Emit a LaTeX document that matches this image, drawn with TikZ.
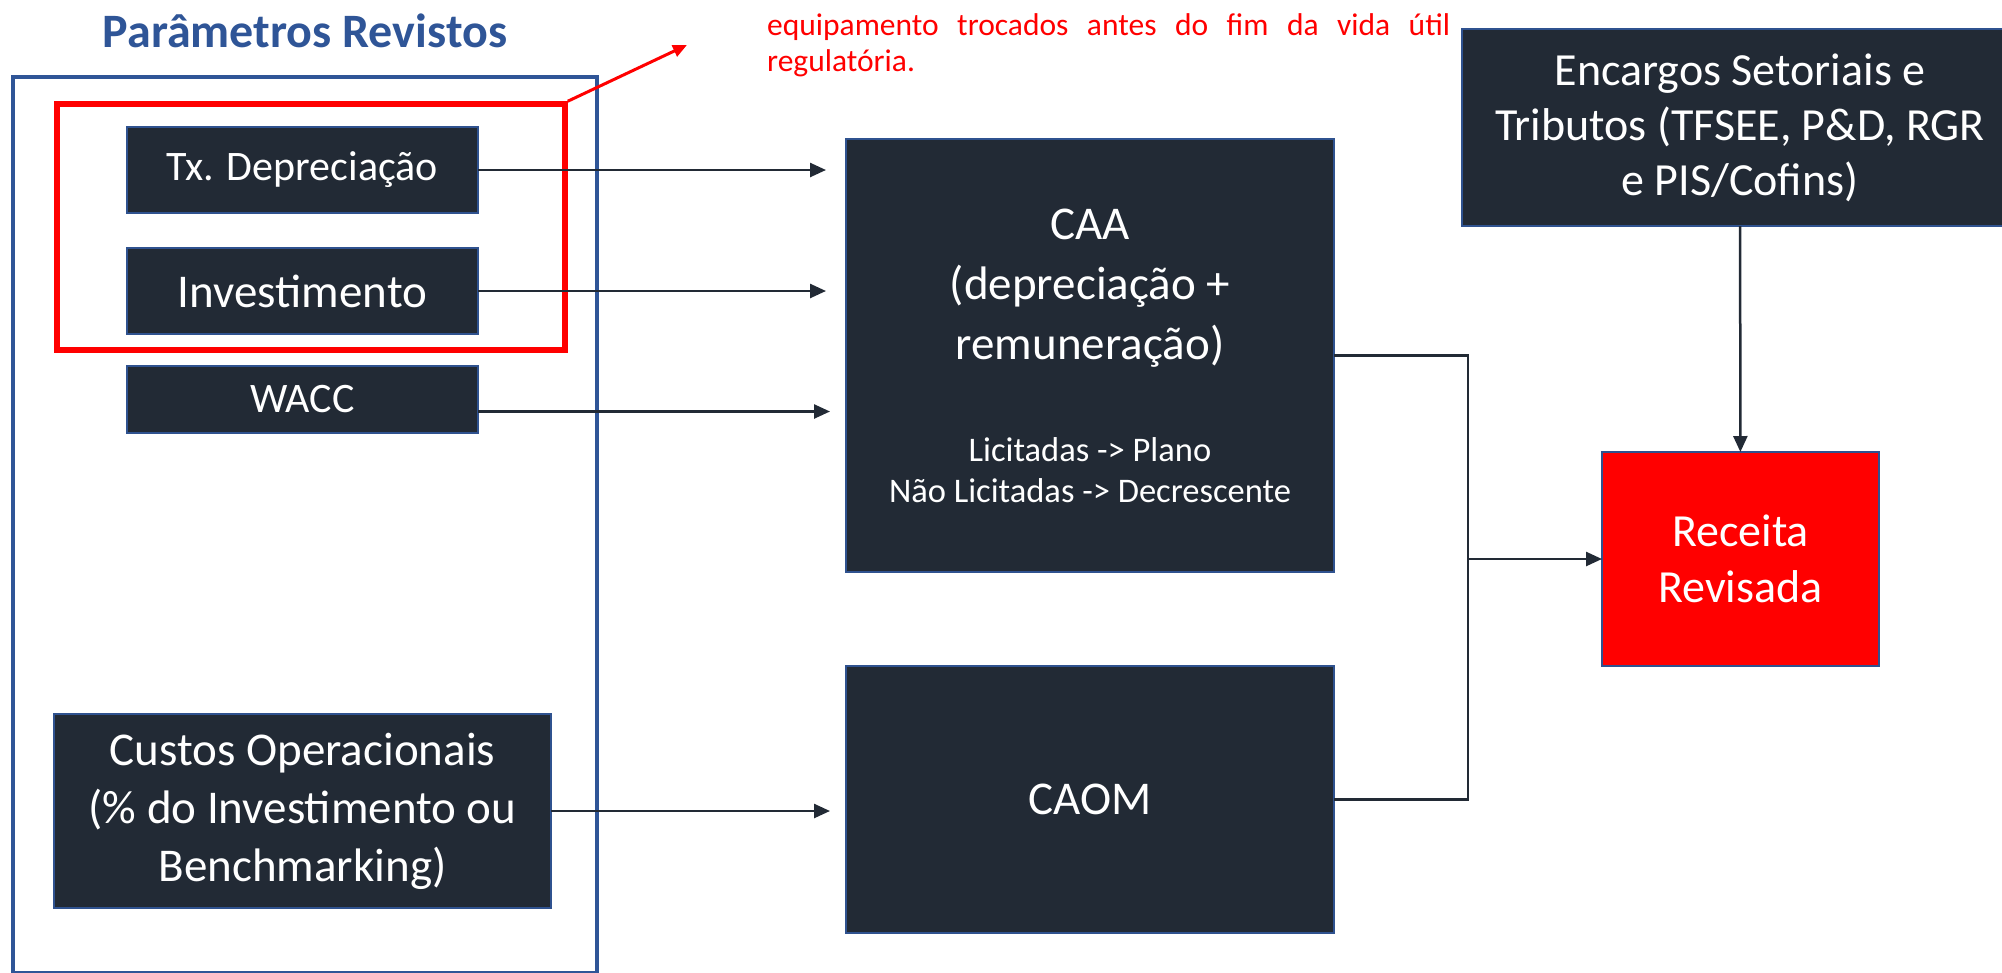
\documentclass[tikz,border=0pt]{standalone}
\usepackage{fontspec}
\setmainfont{Carlito}
\usepackage{tikz}
\usetikzlibrary{
        arrows.meta,
        positioning
    }
\definecolor{boxfill}{HTML}{222A35}
\definecolor{boxline}{HTML}{2F528F}
\definecolor{frameblue}{HTML}{2F5597}
\newcommand{\smallfont}{\fontsize{34.5}{41}\selectfont}
\tikzset{>={Triangle[length=16pt,width=14pt]}}
\tikzset{
    block/.style={draw=boxline,fill=boxfill,text=white,line width=2.5pt,
        align=center,inner sep=0pt,outer sep=0pt},
    link/.style={draw=boxfill,line width=2.5pt}
}

\begin{document}
\begin{tikzpicture}[x=1pt,y=-1pt]
    \useasboundingbox (0,0) rectangle (2002,972);
    \node[font=\fontsize{48}{58}\selectfont\bfseries,text=frameblue,anchor=base] (title) at (305,47) {Parâmetros Revistos};
    \node[draw=frameblue,line width=4pt,minimum width=584pt,minimum height=896pt] (params) at (305,525) {};
    \node[draw=red,line width=5.5pt,minimum width=508pt,minimum height=246pt] (sel) at (311,227) {};

    \node[block,minimum width=351pt,minimum height=86pt,font=\fontsize{42}{51}\selectfont] (tx) at (302.5,170) {Tx. Depreciação};
    \node[block,minimum width=351pt,minimum height=86pt,font=\fontsize{47}{57}\selectfont] (inv) [below=35pt of tx] {Investimento};
    \node[block,minimum width=351pt,minimum height=67pt,font=\fontsize{42}{51}\selectfont] (wacc) [below=32pt of inv] {WACC};
    \node[block,minimum width=497pt,minimum height=194pt,font=\fontsize{47}{58}\selectfont] (custos) at (302.5,811) {Custos Operacionais\\(\% do Investimento ou\\Benchmarking)};

    \node[block,minimum width=488pt,minimum height=433pt,font=\fontsize{47}{60}\selectfont] (caa) at (1090,355.5) {CAA\\(depreciação +\\remuneração)\\[42pt]\smallfont Licitadas -> Plano\\[-19pt]\smallfont Não Licitadas -> Decrescente};
    \node[block,minimum width=488pt,minimum height=267pt,font=\fontsize{47}{57}\selectfont] (caom) [below=94pt of caa] {CAOM};

    \node[block,minimum width=556pt,minimum height=197pt,font=\fontsize{46}{55}\selectfont] (encargos) at (1740,127.5) {Encargos Setoriais e\\Tributos (TFSEE, P\&D, RGR\\e PIS/Cofins)};
    \node[block,fill=red,minimum width=277pt,minimum height=214pt,font=\fontsize{46}{56}\selectfont] (receita) at (1740.5,559) {Receita\\Revisada};

    \node[anchor=base west,text=red,align=left,inner sep=0pt,font=\fontsize{31.5}{36}\selectfont] (note) at (767,71) {\makebox[683pt][s]{equipamento trocados antes do fim da vida útil}\\regulatória.};
    \coordinate (tip) at (687,45);
    \coordinate (join) at ([xshift=-134pt]receita.west);

    \draw[link,->,shorten >=20pt] (tx) -- (tx -| caa.west);
    \draw[link,->,shorten >=20pt] (inv) -- (inv -| caa.west);
    \draw[link,->,shorten >=16pt] ([yshift=-12pt]wacc.east) -- ([yshift=-12pt]wacc.east -| caa.west);
    \draw[link,->,shorten >=16pt] (custos) -- (custos -| caa.west);
    \draw[link] (caa.east) -| (join);
    \draw[link] (caom.east) -| (join);
    \draw[link,->] (join) -- (receita);
    \draw[link,->] (encargos) -- (receita);
    \draw[red,line width=3pt,-{Triangle[length=14pt,width=12pt]}] (sel.north east) -- (tip);
\end{tikzpicture}
\end{document}
